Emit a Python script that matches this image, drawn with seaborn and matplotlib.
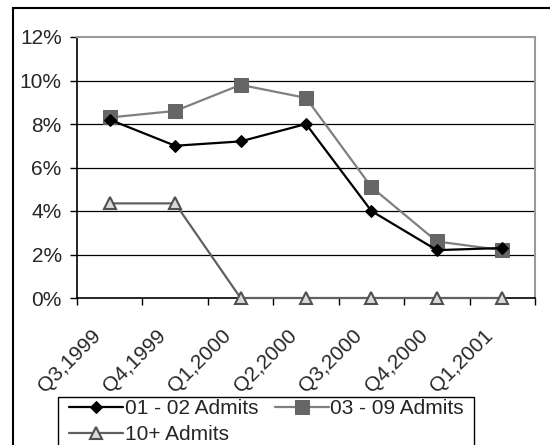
import numpy as np
import pandas as pd
import matplotlib
matplotlib.use("Agg")
import matplotlib.pyplot as plt
import seaborn as sns
from matplotlib.transforms import ScaledTranslation
from matplotlib.patches import Rectangle

categories = ["Q3,1999", "Q4,1999", "Q1,2000", "Q2,2000", "Q3,2000", "Q4,2000", "Q1,2001"]
admits_01_02 = [8.2, 7.0, 7.2, 8.0, 4.0, 2.2, 2.3]
admits_03_09 = [8.3, 8.6, 9.8, 9.2, 5.1, 2.6, 2.2]
admits_10p = [4.35, 4.35, 0.0, 0.0, 0.0, 0.0, 0.0]
y_ticks = [0, 2, 4, 6, 8, 10, 12]
y_tick_labels = ["0%", "2%", "4%", "6%", "8%", "10%", "12%"]

sns.set_style("white")
plt.rcParams['font.family'] = ['Liberation Sans', 'DejaVu Sans']
FS = 15

fig = plt.figure(figsize=(5.5, 4.45), dpi=100)
W, H = 550, 445
ax = fig.add_axes([77 / W, 1 - 298 / H, (535 - 77) / W, (298 - 37) / H])

x = np.arange(len(categories))
df = pd.DataFrame({"x": x, "a": admits_01_02, "b": admits_03_09, "c": admits_10p})

sns.lineplot(data=df, x="x", y="a", ax=ax, color="black", lw=1.6, marker="D",
             markersize=6.5, markerfacecolor="black", markeredgecolor="black",
             label="01 - 02 Admits", zorder=4)
sns.lineplot(data=df, x="x", y="b", ax=ax, color="#808080", lw=1.6, marker="s",
             markersize=10, markerfacecolor="#666666", markeredgecolor="#666666",
             label="03 - 09 Admits", zorder=3)
sns.lineplot(data=df, x="x", y="c", ax=ax, color="#606060", lw=1.6, marker="^",
             markersize=8.5, markerfacecolor="#d9d9d9", markeredgecolor="#505050",
             markeredgewidth=1.5, label="10+ Admits", zorder=5, clip_on=False)

ax.set_xlim(-0.5, len(categories) - 0.5)
ax.set_ylim(0, 12)
ax.set_xlabel("")
ax.set_ylabel("")

for v in [2, 4, 6, 8, 10]:
    ax.axhline(v, color="black", lw=0.9, zorder=1)

ax.set_yticks(y_ticks)
ax.set_yticklabels(y_tick_labels, fontsize=FS)
ax.tick_params(axis="y", direction="out", length=5, width=1, pad=6, left=True, color="black")

ax.set_xticks(x)
ax.set_xticks(np.arange(len(categories) + 1) - 0.5, minor=True)
ax.set_xticklabels(categories, fontsize=FS, rotation=45, ha="right", va="top",
                   rotation_mode="anchor")
ax.tick_params(axis="x", which="major", length=0, pad=20)
ax.tick_params(axis="x", which="minor", direction="out", length=5, width=1, bottom=True, color="black")
offset = ScaledTranslation(-19 / 100, 0, fig.dpi_scale_trans)
for lab in ax.get_xticklabels():
    lab.set_transform(lab.get_transform() + offset)

for side in ["left", "bottom"]:
    ax.spines[side].set_color("black")
    ax.spines[side].set_linewidth(1.2)
for side in ["top", "right"]:
    ax.spines[side].set_color("#999999")
    ax.spines[side].set_linewidth(1.5)
    ax.spines[side].set_visible(True)

FPX = FS * 100 / 72
handles, labels = ax.get_legend_handles_labels()
order = [0, 2, 1]
leg = ax.legend([handles[i] for i in order], [labels[i] for i in order],
                loc="upper left", bbox_to_anchor=(69 / W, 1 - 399 / H),
                bbox_transform=fig.transFigure, ncol=2, fontsize=FS, frameon=False,
                handlelength=54 / FPX, handletextpad=2 / FPX,
                columnspacing=16 / FPX, labelspacing=0.35, borderpad=0, borderaxespad=0)

fig.patches.append(Rectangle((58 / W, -0.1), (474 - 58) / W, 1 - 397 / H + 0.1,
                             transform=fig.transFigure, fill=False, edgecolor="black", lw=1.0))
fig.patches.append(Rectangle((13 / W, -0.1), 1.2, 1 - 8 / H + 0.1, transform=fig.transFigure,
                             fill=False, edgecolor="black", lw=1.5))

fig.savefig("out.png", dpi=100)
